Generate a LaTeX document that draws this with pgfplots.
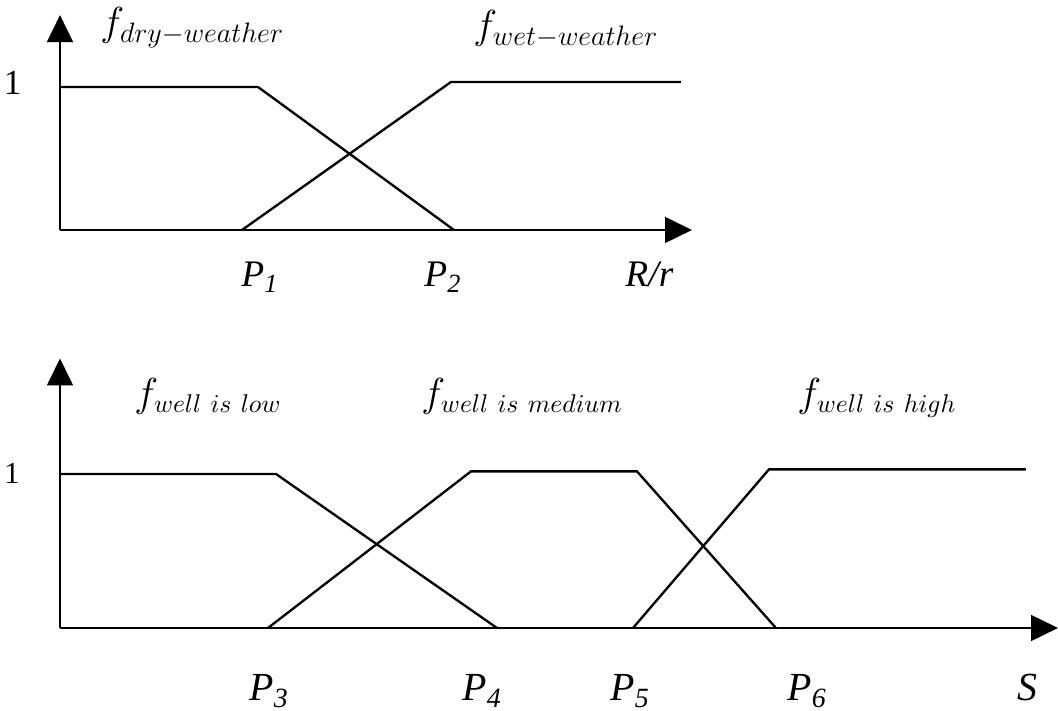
\documentclass[border=0pt]{standalone}
\usepackage{fontspec}
\setmainfont{Liberation Serif}
\usepackage{pgfplots}
\pgfplotsset{compat=1.18}
\usetikzlibrary{arrows.meta}

\pgfplotsset{
  fuzzy/.style={
    axis lines=left,
    axis line style={line width=1pt, -{Triangle[length=11.5pt,width=11pt]}},
    xtick=\empty, ytick=\empty,
    xmin=0, ymin=0,
    x=0.015cm,
    clip=false,
    anchor=south west,
  },
  mf/.style={black, line width=1pt, mark=none, line join=miter},
}

\begin{document}
\begin{tikzpicture}
\useasboundingbox (-0.9cm,-7.215cm) rectangle (14.97cm,3.45cm);

% top: rainfall ratio
\begin{axis}[fuzzy, at={(0,0)}, y=2.145cm, xmax=632, ymax=1.503]
\addplot[mf] coordinates {(0,1) (198,1) (394,0)};
\addplot[mf] coordinates {(182,0) (391,1.035) (621,1.035)};
\node[anchor=base west, inner sep=0pt] at (axis cs:40,1.357) {\fontsize{18}{20}\selectfont $f_{dry-weather}$};
\node[anchor=base west, inner sep=0pt] at (axis cs:413,1.336) {\fontsize{18}{20}\selectfont $f_{wet-weather}$};
\node[anchor=mid east, inner sep=0pt] at (axis cs:-38,0.986) {\fontsize{15}{17}\selectfont 1};
\node[anchor=base west, inner sep=0pt] at (axis cs:181,-0.392) {\fontsize{16}{18}\selectfont\textit{P\textsubscript{1}}};
\node[anchor=base west, inner sep=0pt] at (axis cs:364,-0.392) {\fontsize{16}{18}\selectfont\textit{P\textsubscript{2}}};
\node[anchor=base west, inner sep=0pt] at (axis cs:565,-0.392) {\fontsize{16}{18}\selectfont\textit{R/r}};
\end{axis}

% bottom: well level
\begin{axis}[fuzzy, at={(0,-5.97cm)}, y=2.31cm, xmax=998, ymax=1.75]
\addplot[mf] coordinates {(0,1) (216,1) (437,0)};
\addplot[mf] coordinates {(208,0) (411,1.017) (577,1.017) (716,0)};
\addplot[mf] coordinates {(573,0) (709,1.03) (966,1.03)};
\node[anchor=base west, inner sep=0pt] at (axis cs:74,1.44) {\fontsize{16}{18}\selectfont $f_{well\ is\ low}$};
\node[anchor=base west, inner sep=0pt] at (axis cs:361,1.44) {\fontsize{16}{18}\selectfont $f_{well\ is\ medium}$};
\node[anchor=base west, inner sep=0pt] at (axis cs:737,1.44) {\fontsize{16}{18}\selectfont $f_{well\ is\ high}$};
\node[anchor=mid east, inner sep=0pt] at (axis cs:-40,0.97) {\fontsize{13}{15}\selectfont 1};
\node[anchor=base west, inner sep=0pt] at (axis cs:189,-0.474) {\fontsize{17}{19}\selectfont\textit{P\textsubscript{3}}};
\node[anchor=base west, inner sep=0pt] at (axis cs:402,-0.474) {\fontsize{17}{19}\selectfont\textit{P\textsubscript{4}}};
\node[anchor=base west, inner sep=0pt] at (axis cs:550,-0.474) {\fontsize{17}{19}\selectfont\textit{P\textsubscript{5}}};
\node[anchor=base west, inner sep=0pt] at (axis cs:727,-0.474) {\fontsize{17}{19}\selectfont\textit{P\textsubscript{6}}};
\node[anchor=base west, inner sep=0pt] at (axis cs:957,-0.474) {\fontsize{17}{19}\selectfont\textit{S}};
\end{axis}
\end{tikzpicture}
\end{document}
